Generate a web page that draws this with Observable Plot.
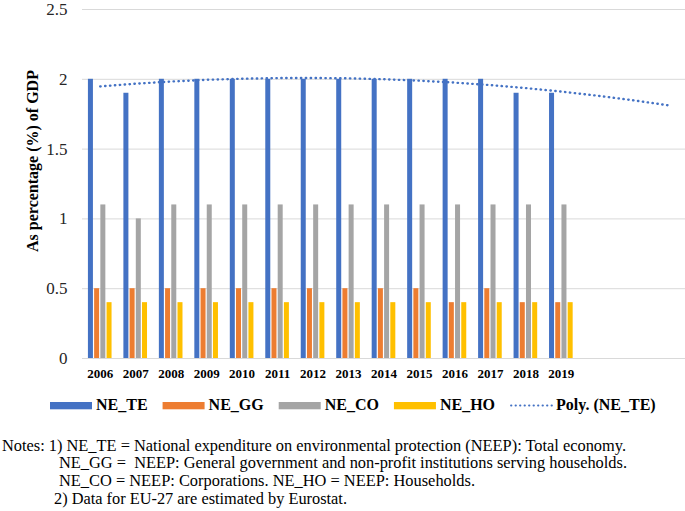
<!DOCTYPE html>
<html>
<head>
<meta charset="utf-8">
<script src="https://cdn.jsdelivr.net/npm/d3@7"></script>
<script src="https://cdn.jsdelivr.net/npm/@observablehq/plot@0.6"></script>
<style>
  body { margin: 0; background: #fff; }
  #chart { width: 685px; height: 511px; position: relative; overflow: hidden; background: #fff; }
  #chart svg { display: block; }
  g[aria-label="x-axis tick label"] text { font-weight: bold; }
</style>
</head>
<body>
<div id="chart"></div>
<script>
// ---------- data ----------
const years = ["2006","2007","2008","2009","2010","2011","2012","2013","2014","2015","2016","2017","2018","2019"];
const forecastSlots = ["f1","f2","f3"]; // trendline forecast periods (empty categories)
const neTE = [2.0, 1.9, 2.0, 2.0, 2.0, 2.0, 2.0, 2.0, 2.0, 2.0, 2.0, 2.0, 1.9, 1.9];
const neGG = [0.5, 0.5, 0.5, 0.5, 0.5, 0.5, 0.5, 0.5, 0.5, 0.5, 0.4, 0.5, 0.4, 0.4];
const neCO = [1.1, 1.0, 1.1, 1.1, 1.1, 1.1, 1.1, 1.1, 1.1, 1.1, 1.1, 1.1, 1.1, 1.1];
const neHO = [0.4, 0.4, 0.4, 0.4, 0.4, 0.4, 0.4, 0.4, 0.4, 0.4, 0.4, 0.4, 0.4, 0.4];
const seriesNames = ["NE_TE", "NE_GG", "NE_CO", "NE_HO"];
const seriesColors = ["#4472C4", "#ED7D31", "#A5A5A5", "#FFC000"];
const yTicks = [0, 0.5, 1, 1.5, 2, 2.5];
const yTitle = "As percentage (%) of GDP";
const trendName = "Poly. (NE_TE)";
const notes = [
  "Notes: 1) NE_TE = National expenditure on environmental protection (NEEP): Total economy.",
  "NE_GG =  NEEP: General government and non-profit institutions serving households.",
  "NE_CO = NEEP: Corporations. NE_HO = NEEP: Households.",
  "2) Data for EU-27 are estimated by Eurostat."
];

// ---------- order-2 polynomial trendline (least squares, like Excel) ----------
function polyFit(ys, deg) {
  const n = deg + 1;
  const A = Array.from({length: n}, () => new Array(n).fill(0));
  const b = new Array(n).fill(0);
  ys.forEach((y, i) => {
    const x = i + 1;
    for (let r = 0; r < n; r++) {
      b[r] += y * Math.pow(x, r);
      for (let c = 0; c < n; c++) A[r][c] += Math.pow(x, r + c);
    }
  });
  for (let p = 0; p < n; p++) {
    for (let r = p + 1; r < n; r++) {
      const f = A[r][p] / A[p][p];
      for (let c = p; c < n; c++) A[r][c] -= f * A[p][c];
      b[r] -= f * b[p];
    }
  }
  const coef = new Array(n).fill(0);
  for (let r = n - 1; r >= 0; r--) {
    let s = b[r];
    for (let c = r + 1; c < n; c++) s -= A[r][c] * coef[c];
    coef[r] = s / A[r][r];
  }
  return x => coef.reduce((acc, k, i) => acc + k * Math.pow(x, i), 0);
}
const trendFn = polyFit(neTE, 2);
const allCats = years.concat(forecastSlots);
const trend = allCats.map((c, i) => ({cat: c, value: trendFn(i + 1)}));

// ---------- plot ----------
const FONT = "'Liberation Serif', 'Times New Roman', serif";
const W = 685, H = 390, mL = 82, mR = 0, mT = 9, mB = 32;
const padIn = 0.3, padOut = 0.15;
const step = (W - mL - mR) / (allCats.length - padIn + 2 * padOut);
const bw = step * (1 - padIn);
const q = bw / 4, gap = 0.6;
const seriesValues = [neTE, neGG, neCO, neHO];

const plot = Plot.plot({
  width: W, height: H,
  marginLeft: mL, marginRight: mR, marginTop: mT, marginBottom: mB,
  style: {fontFamily: FONT, fontSize: "17px", background: "#fff", overflow: "visible"},
  x: {type: "band", domain: allCats, paddingInner: padIn, paddingOuter: padOut, align: 0.5, round: false},
  y: {domain: [0, 2.5]},
  marks: [
    Plot.gridY(yTicks, {stroke: "#D9D9D9", strokeOpacity: 1, strokeWidth: 1}),
    ...seriesValues.map((vals, i) =>
      Plot.barY(years.map((yr, j) => ({year: yr, value: vals[j], series: seriesNames[i]})), {
        x: "year", y: "value", fill: seriesColors[i],
        insetLeft: i * q + gap, insetRight: (3 - i) * q + gap
      })
    ),
    Plot.line(trend, {x: "cat", y: "value", stroke: "#4472C4", strokeWidth: 2.4,
      strokeDasharray: "0.4 4.5", strokeLinecap: "round"}),
    Plot.axisY(yTicks, {tickSize: 0, tickPadding: 15, fontSize: 17, label: null, fill: "#262626",
      tickFormat: d => String(d)}),
    Plot.axisX({tickSize: 0, tickPadding: 10, fontSize: 13, fontWeight: "bold", label: null, fill: "#000",
      tickFormat: d => years.includes(d) ? d : ""}),
    Plot.text([yTitle], {text: d => d, frameAnchor: "left", textAnchor: "middle", rotate: -90,
      dx: -50, dy: -23, fontSize: 16, fontWeight: "bold", fill: "#000"})
  ]
});
document.getElementById("chart").appendChild(plot);

// ---------- legend + notes (below the plot) ----------
const svg2 = d3.select("#chart").append("svg")
  .attr("width", W).attr("height", 511 - H)
  .style("font-family", FONT);

let lx = 50;
const legendItems = seriesNames.map((n, i) => ({name: n, color: seriesColors[i], type: "rect"}))
  .concat([{name: trendName, color: "#4472C4", type: "dots"}]);
legendItems.forEach(it => {
  if (it.type === "rect") {
    svg2.append("rect").attr("x", lx).attr("y", 12).attr("width", 42).attr("height", 7.3).attr("fill", it.color);
  } else {
    svg2.append("line").attr("x1", lx + 1).attr("x2", lx + 42).attr("y1", 15.6).attr("y2", 15.6)
      .attr("stroke", it.color).attr("stroke-width", 2).attr("stroke-linecap", "round")
      .attr("stroke-dasharray", "0.3 4.2");
  }
  const t = svg2.append("text").attr("x", lx + 46).attr("y", 20)
    .attr("font-size", 16).attr("font-weight", "bold").attr("fill", "#000").text(it.name);
  lx += 46 + t.node().getComputedTextLength() + 15;
});

const noteLayout = [
  {x: 2, y: 61, len: 624},
  {x: 59, y: 78, len: 568},
  {x: 59, y: 96, len: 416},
  {x: 54, y: 114, len: 293}
];
notes.forEach((s, i) => {
  const L = noteLayout[i];
  svg2.append("text").attr("x", L.x).attr("y", L.y)
    .attr("font-size", 16).attr("fill", "#000")
    .attr("textLength", L.len).attr("lengthAdjust", "spacingAndGlyphs")
    .style("white-space", "pre").text(s);
});
</script>
</body>
</html>
